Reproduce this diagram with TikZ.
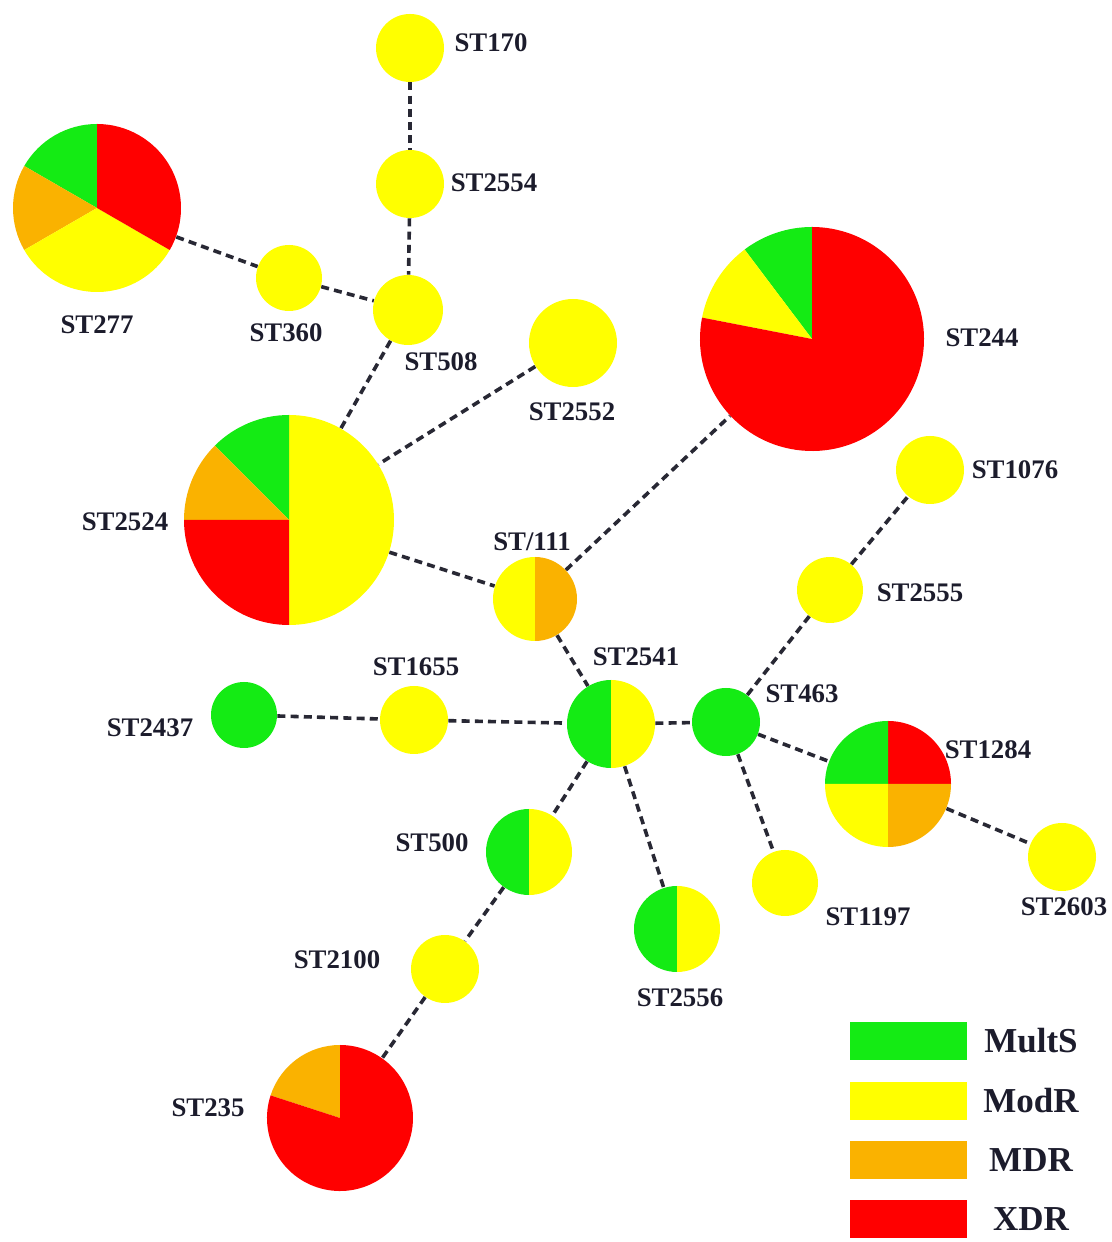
\documentclass[tikz,border=0pt]{standalone}
\usepackage{fontspec}
\setmainfont{Liberation Serif}
\definecolor{cgreen}{RGB}{20,235,20}
\definecolor{cyellow}{RGB}{255,255,0}
\definecolor{corange}{RGB}{250,178,0}
\definecolor{cred}{RGB}{255,0,0}
\definecolor{labelc}{RGB}{28,28,44}
\definecolor{linkc}{RGB}{40,40,52}
\newcommand\pieslice[5]{\fill[#5] (#1.center) -- ++(#3:#2) arc[start angle=#3, end angle=#4, radius=#2] -- cycle;}
\newcommand\fullpie[3]{\fill[#3] (#1.center) circle[radius=#2];}
\begin{document}
\begin{tikzpicture}[x=0.5pt,y=0.5pt,
  nd/.style={circle,inner sep=0pt,minimum size=#1},
  lbl/.style={font=\fontsize{13.4}{15}\selectfont\bfseries, text=labelc, inner sep=0pt},
  leglbl/.style={font=\fontsize{17.5}{20}\selectfont\bfseries, text=labelc, inner sep=0pt},
  legbox/.style={inner sep=0pt, minimum width=58.5pt, minimum height=19pt},
  link/.style={draw=linkc, line width=1.8pt, dash pattern=on 4pt off 2.6pt}]
\useasboundingbox (0,0) rectangle (1112,1242);
\fill[white] (0,0) rectangle (1112,1242);
% nodes (minimum size in pt = radius in px)
\node[nd=34pt] (n170) at (410,1194) {};
\node[nd=34pt] (n2554) at (410,1058) {};
\node[nd=35pt] (n508) at (408,932) {};
\node[nd=33pt] (n360) at (289,964) {};
\node[nd=84pt] (n277) at (97,1034) {};
\node[nd=44pt] (n2552) at (573,899) {};
\node[nd=112pt] (n244) at (812,903) {};
\node[nd=105pt] (n2524) at (289,722) {};
\node[nd=34pt] (n1076) at (930,772) {};
\node[nd=42pt] (n111) at (535,643) {};
\node[nd=33pt] (n2555) at (830,652) {};
\node[nd=34pt] (n1655) at (414,522) {};
\node[nd=33pt] (n2437) at (244,527) {};
\node[nd=44pt] (n2541) at (611,518) {};
\node[nd=34pt] (n463) at (726,520) {};
\node[nd=63pt] (n1284) at (888,458) {};
\node[nd=43pt] (n500) at (529,390) {};
\node[nd=43pt] (n2556) at (677,313) {};
\node[nd=33pt] (n1197) at (785,359) {};
\node[nd=34pt] (n2603) at (1062,385) {};
\node[nd=34pt] (n2100) at (445,273) {};
\node[nd=73pt] (n235) at (340,124) {};
% fills
\fullpie{n170}{34}{cyellow}
\fullpie{n2554}{34}{cyellow}
\fullpie{n508}{35}{cyellow}
\fullpie{n360}{33}{cyellow}
\fullpie{n2552}{44}{cyellow}
\fullpie{n1076}{34}{cyellow}
\fullpie{n2555}{33}{cyellow}
\fullpie{n1655}{34}{cyellow}
\fullpie{n2437}{33}{cgreen}
\fullpie{n463}{34}{cgreen}
\fullpie{n1197}{33}{cyellow}
\fullpie{n2603}{34}{cyellow}
\fullpie{n2100}{34}{cyellow}
% ST277
\pieslice{n277}{84}{90}{150}{cgreen}
\pieslice{n277}{84}{150}{210}{corange}
\pieslice{n277}{84}{210}{330}{cyellow}
\pieslice{n277}{84}{-30}{90}{cred}
% ST2524
\pieslice{n2524}{105}{-90}{90}{cyellow}
\pieslice{n2524}{105}{90}{135}{cgreen}
\pieslice{n2524}{105}{135}{180}{corange}
\pieslice{n2524}{105}{180}{270}{cred}
% ST244
\pieslice{n244}{112}{90}{127}{cgreen}
\pieslice{n244}{112}{127}{169}{cyellow}
\pieslice{n244}{112}{169}{450}{cred}
% ST/111
\pieslice{n111}{42}{90}{270}{cyellow}
\pieslice{n111}{42}{-90}{90}{corange}
% ST2541, ST500, ST2556
\pieslice{n2541}{44}{90}{270}{cgreen}
\pieslice{n2541}{44}{-90}{90}{cyellow}
\pieslice{n500}{43}{90}{270}{cgreen}
\pieslice{n500}{43}{-90}{90}{cyellow}
\pieslice{n2556}{43}{90}{270}{cgreen}
\pieslice{n2556}{43}{-90}{90}{cyellow}
% ST1284
\pieslice{n1284}{63}{0}{90}{cred}
\pieslice{n1284}{63}{90}{180}{cgreen}
\pieslice{n1284}{63}{180}{270}{cyellow}
\pieslice{n1284}{63}{270}{360}{corange}
% ST235
\pieslice{n235}{73}{90}{162}{corange}
\pieslice{n235}{73}{162}{450}{cred}
% links
\draw[link] (n170) -- (n2554);
\draw[link] (n2554) -- (n508);
\draw[link] (n277) -- (n360);
\draw[link] (n360) -- (n508);
\draw[link] (n508) -- (n2524);
\draw[link] (n2552) -- (n2524);
\draw[link] (n2524) -- (n111);
\draw[link] (n111) -- (n244);
\draw[link] (n111) -- (n2541);
\draw[link] (n2437) -- (n1655);
\draw[link] (n1655) -- (n2541);
\draw[link] (n2541) -- (n463);
\draw[link] (n463) -- (n2555);
\draw[link] (n2555) -- (n1076);
\draw[link] (n463) -- (n1284);
\draw[link] (n1284) -- (n2603);
\draw[link] (n463) -- (n1197);
\draw[link] (n2541) -- (n500);
\draw[link] (n2541) -- (n2556);
\draw[link] (n500) -- (n2100);
\draw[link] (n2100) -- (n235);
% labels
\node[lbl] (l170) at (491,1199) {ST170};
\node[lbl] (l2554) at (494,1059) {ST2554};
\node[lbl] (l508) at (441,880) {ST508};
\node[lbl] (l360) at (286,909) {ST360};
\node[lbl] (l277) at (97,917) {ST277};
\node[lbl] (l2552) at (572,830) {ST2552};
\node[lbl] (l244) at (982,904) {ST244};
\node[lbl] (l2524) at (125,720) {ST2524};
\node[lbl] (l1076) at (1015,772) {ST1076};
\node[lbl] (l111) at (532,700) {ST/111};
\node[lbl] (l2555) at (920,649) {ST2555};
\node[lbl] (l1655) at (416,575) {ST1655};
\node[lbl] (l2437) at (150,514) {ST2437};
\node[lbl] (l2541) at (636,585) {ST2541};
\node[lbl] (l463) at (802,548) {ST463};
\node[lbl] (l1284) at (988,492) {ST1284};
\node[lbl] (l500) at (432,399) {ST500};
\node[lbl] (l2556) at (680,244) {ST2556};
\node[lbl] (l1197) at (868,325) {ST1197};
\node[lbl] (l2603) at (1064,335) {ST2603};
\node[lbl] (l2100) at (337,282) {ST2100};
\node[lbl] (l235) at (208,134) {ST235};
% legend
\node[legbox, fill=cgreen] (lg1) at (908.5,201) {};
\node[legbox, fill=cyellow] (lg2) at (908.5,141) {};
\node[legbox, fill=corange] (lg3) at (908.5,82) {};
\node[legbox, fill=cred] (lg4) at (908.5,23) {};
\node[leglbl] (lt1) at (1031,201) {MultS};
\node[leglbl] (lt2) at (1031,141) {ModR};
\node[leglbl] (lt3) at (1031,82) {MDR};
\node[leglbl] (lt4) at (1031,23) {XDR};
\end{tikzpicture}
\end{document}
